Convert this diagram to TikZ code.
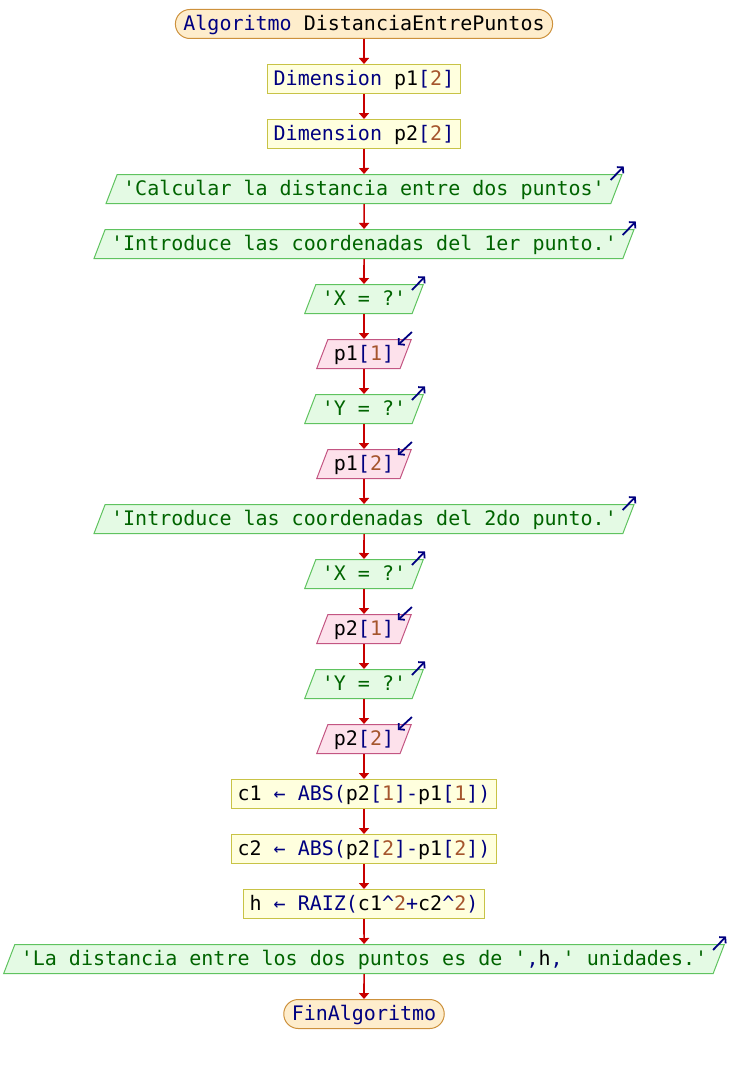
\documentclass[tikz,border=0pt]{standalone}
\usepackage{fontspec}
\setmonofont{DejaVu Sans Mono}
\usepackage{xcolor}
\usetikzlibrary{shapes.geometric,arrows.meta}

\definecolor{kwblue}{RGB}{0,0,128}
\definecolor{nmbrown}{RGB}{165,85,45}
\definecolor{strgreen}{RGB}{0,100,0}
\definecolor{termfill}{RGB}{254,237,204}
\definecolor{termdraw}{RGB}{205,145,60}
\definecolor{procfill}{RGB}{255,255,222}
\definecolor{procdraw}{RGB}{200,195,70}
\definecolor{outfill}{RGB}{228,250,228}
\definecolor{outdraw}{RGB}{95,195,95}
\definecolor{infill}{RGB}{253,225,235}
\definecolor{indraw}{RGB}{195,85,130}
\definecolor{flowred}{RGB}{200,0,0}

\newcommand{\kw}[1]{\textcolor{kwblue}{#1}}
\newcommand{\nmb}[1]{\textcolor{nmbrown}{#1}}
\newcommand{\strg}[1]{\textcolor{strgreen}{#1}}
\newcommand{\idx}[2]{#1\kw{[}\nmb{#2}\kw{]}}

\begin{document}
\begin{tikzpicture}[x=1pt, y=1pt, font=\ttfamily\fontsize{20}{24}\selectfont,
  base/.style={text height=18pt, text depth=5pt, inner ysep=3pt, line width=1pt},
  terminal/.style={base, rectangle, rounded corners=14.5pt, draw=termdraw, fill=termfill, inner xsep=8pt},
  proc/.style={base, rectangle, draw=procdraw, fill=procfill, inner xsep=6pt},
  outbox/.style={base, trapezium, trapezium left angle=69, trapezium right angle=111,
    draw=outdraw, fill=outfill, inner xsep=6pt, text=strgreen},
  inbox/.style={base, trapezium, trapezium left angle=69, trapezium right angle=111,
    draw=indraw, fill=infill, inner xsep=6pt},
  flow/.style={draw=flowred, line width=1.6pt, -{Triangle[length=6pt,width=10pt]}},
  icon/.style={draw=kwblue, line width=1.8pt, -{Straight Barb[length=4pt,width=9pt]}}]
  \useasboundingbox (0,0) rectangle (728,-1065);
  % ---- first point
  \node[terminal] (algo) at (364,-24) {\kw{Algoritmo} DistanciaEntrePuntos};
  \node[proc] (dim1) at (364,-79) {\kw{Dimension} \idx{p1}{2}};
  \node[proc] (dim2) at (364,-134) {\kw{Dimension} \idx{p2}{2}};
  \node[outbox] (msg1) at (364,-189) {'Calcular la distancia entre dos puntos'};
  \node[outbox] (msg2) at (364,-244) {'Introduce las coordenadas del 1er punto.'};
  \node[outbox] (askx1) at (364,-299) {'X = ?'};
  \node[inbox] (readx1) at (364,-354) {\idx{p1}{1}};
  \node[outbox] (asky1) at (364,-409) {'Y = ?'};
  \node[inbox] (ready1) at (364,-464) {\idx{p1}{2}};
  % ---- second point
  \node[outbox] (msg3) at (364,-519) {'Introduce las coordenadas del 2do punto.'};
  \node[outbox] (askx2) at (364,-574) {'X = ?'};
  \node[inbox] (readx2) at (364,-629) {\idx{p2}{1}};
  \node[outbox] (asky2) at (364,-684) {'Y = ?'};
  \node[inbox] (ready2) at (364,-739) {\idx{p2}{2}};
  % ---- computation and result
  \node[proc] (calc1) at (364,-794) {c1 \kw{← ABS(}\idx{p2}{1}\kw{-}\idx{p1}{1}\kw{)}};
  \node[proc] (calc2) at (364,-849) {c2 \kw{← ABS(}\idx{p2}{2}\kw{-}\idx{p1}{2}\kw{)}};
  \node[proc] (calch) at (364,-904) {h \kw{← RAIZ(}c1\kw{\textasciicircum}\nmb{2}\kw{+}c2\kw{\textasciicircum}\nmb{2}\kw{)}};
  \node[outbox] (result) at (364,-959) {'La distancia entre los dos puntos es de '\kw{,}\textcolor{black}{h}\kw{,}' unidades.'};
  \node[terminal] (fin) at (364,-1014) {\kw{FinAlgoritmo}};
  % ---- connectors
  \foreach \a/\b in {algo/dim1, dim1/dim2, dim2/msg1, msg1/msg2, msg2/askx1, askx1/readx1,
    readx1/asky1, asky1/ready1, ready1/msg3, msg3/askx2, askx2/readx2, readx2/asky2,
    asky2/ready2, ready2/calc1, calc1/calc2, calc2/calch, calch/result, result/fin} {
    \draw[flow] (\a.south) -- (\b.north);
  }
  % ---- output / input marks
  \foreach \o in {msg1, msg2, askx1, asky1, msg3, askx2, asky2, result} {
    \draw[icon] ([shift={(-12,-6)}]\o.top right corner) -- ++(13,13.5);
  }
  \foreach \i in {readx1, ready1, readx2, ready2} {
    \draw[icon] ([shift={(0,7)}]\i.top right corner) -- ++(-14,-13);
  }
\end{tikzpicture}
\end{document}
